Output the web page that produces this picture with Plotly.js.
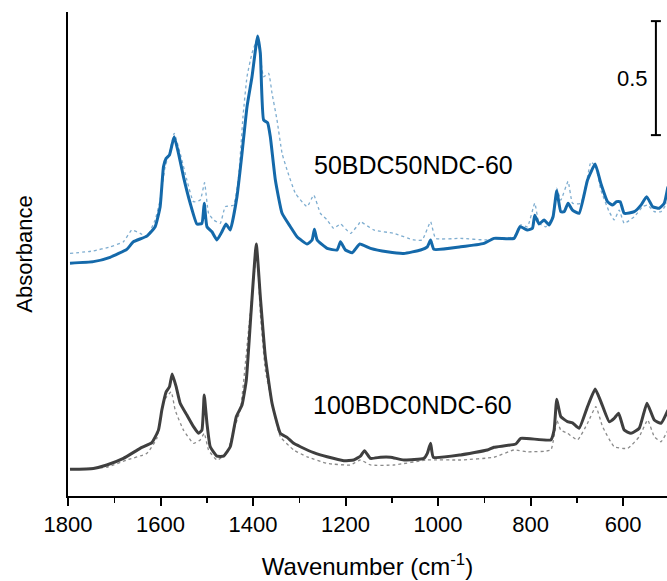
<!DOCTYPE html>
<html>
<head>
<meta charset="utf-8">
<script src="https://cdn.plot.ly/plotly-3.0.1.min.js"></script>
<style>html,body{margin:0;padding:0;background:#fff;}#chart{width:667px;height:581px;}</style>
</head>
<body>
<div id="chart"></div>
<script>
// 50BDC50NDC-60 (solid)
const wnTopSolid = [1795.7,1745.2,1709.0,1672.9,1658.6,1629.6,1611.6,1600.8,1593.6,1587.8,1580.6,1570.5,1561.1,1550.3,1535.8,1521.3,1510.5,1505.5,1499.6,1488.8,1478.0,1467.2,1458.5,1449.2,1434.7,1423.8,1413.0,1402.2,1390.1,1384.2,1377.1,1368.4,1362.6,1351.7,1337.2,1319.2,1304.8,1283.1,1272.3,1267.3,1261.4,1239.8,1218.1,1211.0,1200.2,1185.6,1169.2,1146.0,1109.9,1073.9,1037.7,1023.2,1016.1,1008.9,951.1,900.7,879.0,835.7,822.7,806.7,795.9,790.9,781.6,770.7,759.9,751.3,743.3,734.6,727.4,718.8,709.3,695.0,676.8,660.3,648.0,633.5,622.6,614.0,606.2,597.5,575.8,561.3,549.0,536.0,521.7,510.9,502.9];
const absTopSolid = [1.021,1.028,1.047,1.082,1.115,1.140,1.181,1.269,1.444,1.481,1.496,1.576,1.503,1.400,1.284,1.193,1.196,1.284,1.181,1.159,1.123,1.159,1.193,1.167,1.313,1.503,1.707,1.839,2.018,1.942,1.649,1.637,1.576,1.386,1.240,1.181,1.137,1.105,1.123,1.170,1.123,1.086,1.079,1.115,1.079,1.067,1.105,1.086,1.071,1.064,1.079,1.093,1.123,1.082,1.093,1.108,1.130,1.130,1.181,1.167,1.174,1.232,1.193,1.211,1.189,1.225,1.339,1.247,1.247,1.284,1.254,1.240,1.386,1.456,1.371,1.291,1.276,1.291,1.291,1.240,1.247,1.276,1.313,1.269,1.262,1.284,1.357];
// 50BDC50NDC-60 (dotted)
const wnTopDot = [1795.7,1745.2,1709.0,1680.2,1662.1,1644.1,1629.6,1611.6,1600.8,1590.0,1579.1,1570.5,1557.5,1543.0,1528.7,1514.1,1504.8,1496.2,1485.3,1470.8,1460.0,1442.0,1431.2,1421.7,1413.0,1402.2,1390.1,1377.1,1366.3,1358.9,1348.1,1337.2,1326.4,1308.4,1283.1,1268.8,1254.3,1239.8,1225.5,1211.0,1189.3,1171.4,1167.7,1138.9,1095.6,1052.3,1034.1,1016.1,1005.3,951.1,893.3,879.0,835.7,821.2,806.7,790.9,781.6,767.1,752.6,743.3,734.6,718.8,709.3,691.3,676.8,669.6,658.8,648.0,630.0,619.1,608.3,597.5,575.8,557.6,546.8,532.5,518.0,502.9];
const absTopDot = [1.064,1.075,1.093,1.115,1.167,1.152,1.137,1.211,1.298,1.444,1.518,1.591,1.503,1.386,1.291,1.298,1.374,1.240,1.211,1.196,1.269,1.276,1.400,1.664,1.839,1.942,2.007,1.839,1.854,1.766,1.649,1.503,1.430,1.328,1.269,1.320,1.240,1.211,1.174,1.193,1.152,1.193,1.203,1.167,1.152,1.123,1.123,1.203,1.130,1.130,1.123,1.130,1.137,1.189,1.181,1.284,1.196,1.181,1.225,1.350,1.298,1.380,1.284,1.284,1.400,1.465,1.444,1.342,1.247,1.211,1.254,1.196,1.225,1.269,1.276,1.247,1.247,1.291];
// 100BDC0NDC-60 (solid)
const wnBotSolid = [1795.7,1745.2,1716.2,1680.2,1644.1,1618.7,1604.5,1597.1,1587.8,1580.6,1574.8,1566.1,1557.5,1543.0,1528.7,1517.8,1510.5,1505.5,1499.6,1492.5,1478.0,1463.7,1449.2,1436.2,1423.8,1414.5,1404.4,1392.9,1384.2,1373.4,1358.9,1340.9,1326.4,1312.1,1297.6,1268.8,1239.8,1203.8,1182.2,1167.7,1159.0,1146.0,1124.4,1102.7,1073.9,1030.6,1023.2,1016.1,1010.2,951.1,893.3,879.0,832.0,821.2,756.2,749.1,743.3,734.6,720.1,709.3,695.0,676.8,660.3,648.0,630.0,619.1,609.6,597.5,583.0,565.0,548.3,532.5,518.0,502.9];
const absBotSolid = [0.117,0.121,0.136,0.165,0.209,0.234,0.289,0.377,0.457,0.479,0.535,0.479,0.407,0.355,0.304,0.275,0.289,0.443,0.319,0.216,0.175,0.175,0.216,0.348,0.399,0.509,0.801,1.105,0.874,0.611,0.407,0.275,0.257,0.231,0.216,0.190,0.172,0.155,0.158,0.175,0.199,0.165,0.170,0.170,0.158,0.165,0.187,0.231,0.170,0.180,0.202,0.214,0.228,0.253,0.246,0.289,0.424,0.348,0.326,0.321,0.297,0.392,0.469,0.414,0.326,0.341,0.363,0.289,0.275,0.297,0.407,0.333,0.319,0.377];
// 100BDC0NDC-60 (dotted)
const wnBotDot = [1795.7,1716.2,1672.9,1629.6,1607.9,1593.6,1577.0,1568.3,1550.3,1528.7,1514.1,1505.5,1496.2,1478.0,1456.3,1442.0,1427.5,1409.6,1395.0,1391.4,1384.2,1373.4,1358.9,1340.9,1312.1,1283.1,1239.8,1189.3,1167.7,1146.0,1095.6,1023.2,951.1,879.0,835.7,806.7,756.2,743.3,734.6,720.1,698.4,676.8,658.8,644.3,619.1,589.9,565.0,546.8,532.5,518.0,502.9];
const absBotDot = [0.117,0.126,0.158,0.187,0.253,0.414,0.457,0.377,0.289,0.231,0.246,0.275,0.202,0.158,0.187,0.289,0.377,0.728,1.021,1.079,0.801,0.553,0.407,0.260,0.202,0.172,0.143,0.136,0.158,0.136,0.136,0.158,0.158,0.170,0.202,0.194,0.202,0.333,0.289,0.275,0.246,0.319,0.392,0.304,0.216,0.209,0.260,0.333,0.260,0.238,0.289];

const sampleLabels = ['50BDC50NDC-60', '100BDC0NDC-60'];
const scaleBarValue = 0.5;
const xTickVals = [1800, 1600, 1400, 1200, 1000, 800, 600];

const FONT = 'Arial, "Liberation Sans", sans-serif';
const blue = '#1469aa', gray = '#3f3f3f';

const traces = [
  {x: wnTopDot, y: absTopDot, mode: 'lines', line: {color: 'rgba(20,105,170,0.55)', width: 1.3, dash: 'dot', shape: 'spline', smoothing: 0.4}, showlegend: false},
  {x: wnTopSolid, y: absTopSolid, mode: 'lines', line: {color: blue, width: 3, shape: 'spline', smoothing: 0.4}, showlegend: false},
  {x: wnBotDot, y: absBotDot, mode: 'lines', line: {color: 'rgba(60,60,60,0.6)', width: 1.3, dash: 'dot', shape: 'spline', smoothing: 0.4}, showlegend: false},
  {x: wnBotSolid, y: absBotSolid, mode: 'lines', line: {color: gray, width: 3, shape: 'spline', smoothing: 0.4}, showlegend: false}
];

const barX = 529, barTop = 2.083, barBot = barTop - scaleBarValue, capHalf = 10.8;
const layout = {
  width: 667, height: 581,
  margin: {l: 68, r: 0, t: 12, b: 85},
  paper_bgcolor: '#fff', plot_bgcolor: '#fff',
  font: {family: FONT, size: 22, color: '#000'},
  xaxis: {
    range: [1800, 505], showgrid: false, zeroline: false,
    showline: true, linecolor: '#000', linewidth: 2,
    ticks: 'outside', ticklen: 8, tickwidth: 2, tickcolor: '#000',
    tickvals: xTickVals, ticktext: xTickVals.map(String),
    tickfont: {family: FONT, size: 22, color: '#000'},
    minor: {dtick: 100, tick0: 0, ticks: 'outside', ticklen: 5, tickwidth: 1.5, tickcolor: '#000', showgrid: false},
    title: {text: 'Wavenumber (cm<sup>-1</sup>)', font: {family: FONT, size: 24, color: '#000'}, standoff: 22}
  },
  yaxis: {
    range: [0, 2.123], showgrid: false, zeroline: false,
    showline: true, linecolor: '#000', linewidth: 2,
    ticks: '', showticklabels: false,
    title: {text: 'Absorbance', font: {family: FONT, size: 22, color: '#000'}, standoff: 27}
  },
  shapes: [
    {type: 'line', xref: 'x', yref: 'y', x0: barX, x1: barX, y0: barBot, y1: barTop, line: {color: '#000', width: 2}},
    {type: 'line', xref: 'x', yref: 'y', x0: barX + capHalf, x1: barX - capHalf, y0: barTop, y1: barTop, line: {color: '#000', width: 2}},
    {type: 'line', xref: 'x', yref: 'y', x0: barX + capHalf, x1: barX - capHalf, y0: barBot, y1: barBot, line: {color: '#000', width: 2}}
  ],
  annotations: [
    {x: 1053, y: 1.452, xref: 'x', yref: 'y', text: sampleLabels[0], showarrow: false, font: {family: FONT, size: 25, color: '#000'}},
    {x: 1055, y: 0.399, xref: 'x', yref: 'y', text: sampleLabels[1], showarrow: false, font: {family: FONT, size: 25, color: '#000'}},
    {x: 579, y: (barTop + barBot) / 2, xref: 'x', yref: 'y', text: String(scaleBarValue), showarrow: false, font: {family: FONT, size: 22, color: '#000'}}
  ]
};

Plotly.newPlot('chart', traces, layout, {displayModeBar: false, staticPlot: true});
</script>
</body>
</html>
